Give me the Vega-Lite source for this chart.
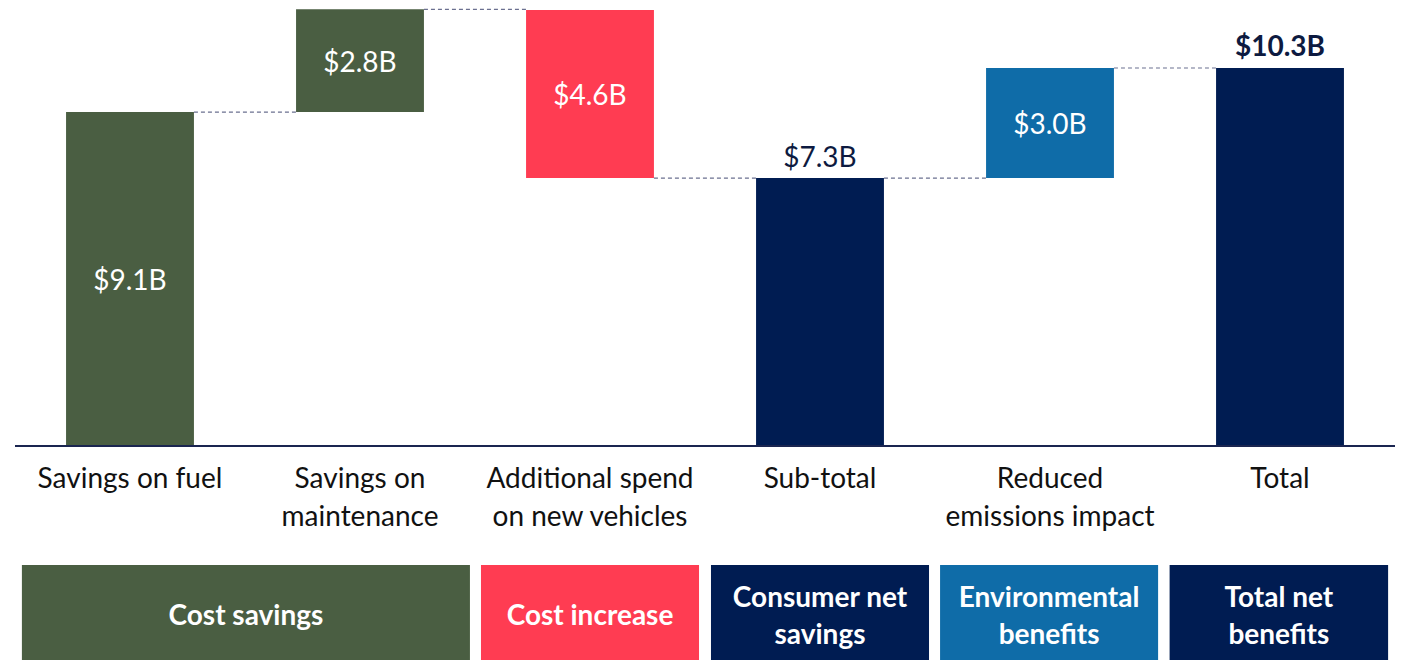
{
  "$schema": "https://vega.github.io/schema/vega-lite/v6.json",
  "width": 1404,
  "height": 660,
  "autosize": {"type": "none"},
  "padding": 0,
  "background": "white",
  "config": {"view": {"stroke": null}, "font": "Lato"},
  "datasets": {
    "bars": [
      {"cat": "Savings on fuel", "x0": 0.222, "x1": 0.778, "xm": 0.5, "start": 0, "end": 9.1, "mid": 4.55, "type": "saving", "label": "$9.1B", "place": "inside"},
      {"cat": "Savings on\nmaintenance", "x0": 1.222, "x1": 1.778, "xm": 1.5, "start": 9.1, "end": 11.9, "mid": 10.5, "type": "saving", "label": "$2.8B", "place": "inside"},
      {"cat": "Additional spend\non new vehicles", "x0": 2.222, "x1": 2.778, "xm": 2.5, "start": 11.88, "end": 7.3, "mid": 9.6, "type": "increase", "label": "$4.6B", "place": "inside"},
      {"cat": "Sub-total", "x0": 3.222, "x1": 3.778, "xm": 3.5, "start": 0, "end": 7.3, "mid": 3.65, "type": "net", "label": "$7.3B", "place": "above"},
      {"cat": "Reduced\nemissions impact", "x0": 4.222, "x1": 4.778, "xm": 4.5, "start": 7.3, "end": 10.3, "mid": 8.8, "type": "env", "label": "$3.0B", "place": "inside"},
      {"cat": "Total", "x0": 5.222, "x1": 5.778, "xm": 5.5, "start": 0, "end": 10.3, "mid": 5.15, "type": "total", "label": "$10.3B", "place": "aboveBold"}
    ],
    "connectors": [
      {"from": 0.778, "to": 1.222, "level": 9.1},
      {"from": 1.778, "to": 2.222, "level": 11.9},
      {"from": 2.778, "to": 3.222, "level": 7.3},
      {"from": 3.778, "to": 4.222, "level": 7.3},
      {"from": 4.778, "to": 5.222, "level": 10.3}
    ],
    "groups": [
      {"label": "Cost savings", "x0": 0.03, "x1": 1.978, "xm": 1.004, "type": "saving", "lines": 1},
      {"label": "Cost increase", "x0": 2.026, "x1": 2.974, "xm": 2.5, "type": "increase", "lines": 1},
      {"label": "Consumer net\nsavings", "x0": 3.026, "x1": 3.974, "xm": 3.5, "type": "net", "lines": 2},
      {"label": "Environmental\nbenefits", "x0": 4.022, "x1": 4.97, "xm": 4.496, "type": "env", "lines": 2},
      {"label": "Total net\nbenefits", "x0": 5.02, "x1": 5.97, "xm": 5.495, "type": "total", "lines": 2}
    ],
    "baseline": [{"a": 0, "b": 6, "y": 0}]
  },
  "layer": [
    {
      "data": {"name": "bars"},
      "mark": {"type": "rect"},
      "encoding": {
        "x": {"field": "x0", "type": "quantitative", "scale": {"domain": [-0.0652, 6.0391], "nice": false, "zero": false}, "axis": null},
        "x2": {"field": "x1"},
        "y": {"field": "start", "type": "quantitative", "scale": {"domain": [-5.831, 12.153], "nice": false, "zero": false}, "axis": null},
        "y2": {"field": "end"},
        "color": {"field": "type", "type": "nominal", "scale": {"domain": ["saving", "increase", "net", "env", "total"], "range": ["#4a5e42", "#ff3c52", "#001c52", "#0f6ca8", "#001c52"]}, "legend": null}
      }
    },
    {
      "data": {"name": "connectors"},
      "mark": {"type": "rule", "color": "#6b7090", "strokeWidth": 1.2, "strokeDash": [4, 3]},
      "encoding": {
        "x": {"field": "from", "type": "quantitative"},
        "x2": {"field": "to"},
        "y": {"field": "level", "type": "quantitative"}
      }
    },
    {
      "data": {"name": "baseline"},
      "mark": {"type": "rule", "color": "#1a2550", "strokeWidth": 2},
      "encoding": {
        "x": {"field": "a", "type": "quantitative"},
        "x2": {"field": "b"},
        "y": {"field": "y", "type": "quantitative"}
      }
    },
    {
      "data": {"name": "bars"},
      "transform": [{"filter": "datum.place == 'inside'"}],
      "mark": {"type": "text", "color": "white", "fontSize": 28, "baseline": "middle", "align": "center", "dy": 3},
      "encoding": {
        "x": {"field": "xm", "type": "quantitative"},
        "y": {"field": "mid", "type": "quantitative"},
        "text": {"field": "label", "type": "nominal"}
      }
    },
    {
      "data": {"name": "bars"},
      "transform": [{"filter": "datum.place == 'above'"}],
      "mark": {"type": "text", "color": "#0d1a40", "fontSize": 28, "baseline": "middle", "align": "center", "dy": -19},
      "encoding": {
        "x": {"field": "xm", "type": "quantitative"},
        "y": {"field": "end", "type": "quantitative"},
        "text": {"field": "label", "type": "nominal"}
      }
    },
    {
      "data": {"name": "bars"},
      "transform": [{"filter": "datum.place == 'aboveBold'"}],
      "mark": {"type": "text", "color": "#0d1a40", "fontSize": 28, "fontWeight": "bold", "baseline": "middle", "align": "center", "dy": -20},
      "encoding": {
        "x": {"field": "xm", "type": "quantitative"},
        "y": {"field": "end", "type": "quantitative"},
        "text": {"field": "label", "type": "nominal"}
      }
    },
    {
      "data": {"name": "bars"},
      "mark": {"type": "text", "color": "#111111", "fontSize": 28, "baseline": "middle", "align": "center", "lineBreak": "\n", "lineHeight": 38, "dy": 34},
      "encoding": {
        "x": {"field": "xm", "type": "quantitative"},
        "y": {"datum": 0, "type": "quantitative"},
        "text": {"field": "cat", "type": "nominal"}
      }
    },
    {
      "data": {"name": "groups"},
      "mark": {"type": "rect"},
      "encoding": {
        "x": {"field": "x0", "type": "quantitative"},
        "x2": {"field": "x1"},
        "y": {"datum": -3.243, "type": "quantitative"},
        "y2": {"datum": -5.831},
        "color": {"field": "type", "type": "nominal"}
      }
    },
    {
      "data": {"name": "groups"},
      "transform": [{"filter": "datum.lines == 1"}],
      "mark": {"type": "text", "color": "white", "fontSize": 28, "fontWeight": "bold", "baseline": "middle", "align": "center", "dy": 2},
      "encoding": {
        "x": {"field": "xm", "type": "quantitative"},
        "y": {"datum": -4.605, "type": "quantitative"},
        "text": {"field": "label", "type": "nominal"}
      }
    },
    {
      "data": {"name": "groups"},
      "transform": [{"filter": "datum.lines == 2"}],
      "mark": {"type": "text", "color": "white", "fontSize": 28, "fontWeight": "bold", "baseline": "middle", "align": "center", "lineBreak": "\n", "lineHeight": 37, "dy": -16},
      "encoding": {
        "x": {"field": "xm", "type": "quantitative"},
        "y": {"datum": -4.605, "type": "quantitative"},
        "text": {"field": "label", "type": "nominal"}
      }
    }
  ]
}
